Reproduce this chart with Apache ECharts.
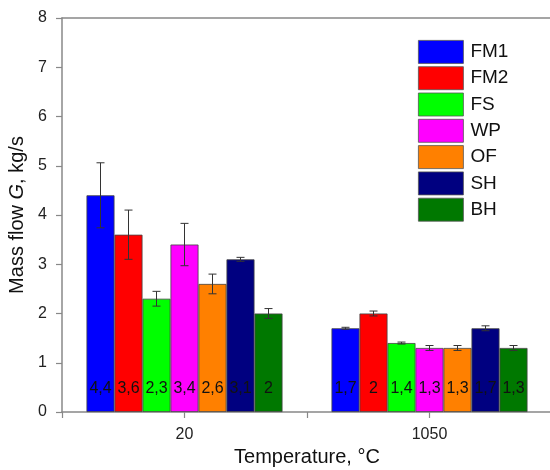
<!DOCTYPE html>
<html>
<head>
<meta charset="utf-8">
<script src="https://cdn.jsdelivr.net/npm/echarts@6/dist/echarts.min.js"></script>
<style>html,body{margin:0;padding:0;background:#fff;}#c{width:550px;height:470px;}</style>
</head>
<body>
<div id="c"></div>
<script>
const categories = ['20', '1050'];
const seriesNames = ['FM1', 'FM2', 'FS', 'WP', 'OF', 'SH', 'BH'];
const FM1 = [4.4, 1.7];
const FM2 = [3.6, 2.0];
const FS = [2.3, 1.4];
const WP = [3.4, 1.3];
const OF = [2.6, 1.3];
const SH = [3.1, 1.7];
const BH = [2.0, 1.3];
const FM1err = [0.66, 0.02];
const FM2err = [0.5, 0.05];
const FSerr = [0.15, 0.02];
const WPerr = [0.43, 0.05];
const OFerr = [0.2, 0.05];
const SHerr = [0.04, 0.05];
const BHerr = [0.1, 0.05];
const yTicks = [0, 1, 2, 3, 4, 5, 6, 7, 8];

const values = [FM1, FM2, FS, WP, OF, SH, BH];
const errors = [FM1err, FM2err, FSerr, WPerr, OFerr, SHerr, BHerr];
const colors = ['#0000ff', '#ff0000', '#00ff00', '#ff00ff', '#ff8000', '#000080', '#007800'];
const FONT = 'Liberation Sans, Arial, sans-serif';
const nSeries = seriesNames.length;
const catGapFrac = 0.2;

const chart = echarts.init(document.getElementById('c'));
const series = [];
seriesNames.forEach((name, i) => {
  series.push({
    name: name,
    type: 'bar',
    data: values[i],
    barGap: '0%',
    barCategoryGap: '20%',
    itemStyle: { color: colors[i], borderColor: '#444', borderWidth: 0.8 },
    label: {
      show: true,
      position: 'insideBottom',
      distance: 15,
      color: '#111',
      fontFamily: FONT,
      fontSize: 16,
      formatter: p => String(p.value).replace('.', ',')
    },
    z: 2
  });
});
seriesNames.forEach((name, i) => {
  series.push({
    type: 'custom',
    name: name + ' err',
    data: categories.map((c, k) => [k, values[i][k], errors[i][k]]),
    encode: { x: 0, y: 1 },
    z: 5,
    silent: true,
    renderItem: function (params, api) {
      const k = api.value(0);
      const v = api.value(1);
      const e = api.value(2);
      const catW = api.size([1, 0])[0];
      const bw = catW * (1 - catGapFrac) / nSeries;
      const c = api.coord([k, v]);
      const x = c[0] + (i - (nSeries - 1) / 2) * bw;
      const top = api.coord([k, v + e])[1];
      const bot = api.coord([k, v - e])[1];
      const cap = 4;
      const st = { stroke: '#333', lineWidth: 1 };
      return {
        type: 'group',
        children: [
          { type: 'line', shape: { x1: x, y1: top, x2: x, y2: bot }, style: st },
          { type: 'line', shape: { x1: x - cap, y1: top, x2: x + cap, y2: top }, style: st },
          { type: 'line', shape: { x1: x - cap, y1: bot, x2: x + cap, y2: bot }, style: st }
        ]
      };
    }
  });
});
// center tick marks on category axis
series.push({
  type: 'custom',
  silent: true,
  data: categories.map((c, k) => [k, 0]),
  encode: { x: 0, y: 1 },
  z: 6,
  renderItem: function (params, api) {
    const c = api.coord([api.value(0), 0]);
    return { type: 'line', shape: { x1: c[0], y1: c[1], x2: c[0], y2: c[1] + 6 }, style: { stroke: '#888', lineWidth: 1.2 } };
  }
});

chart.setOption({
  animation: false,
  backgroundColor: '#fff',
  textStyle: { fontFamily: FONT },
  grid: { left: 62, top: 18, width: 490, bottom: 58, containLabel: false, outerBoundsMode: 'none' },
  legend: {
    data: seriesNames,
    orient: 'vertical',
    left: 418,
    top: 40,
    padding: 0,
    itemWidth: 45,
    itemHeight: 23,
    itemGap: 2.5,
    icon: 'rect',
    textStyle: { fontFamily: FONT, fontSize: 19, color: '#111', padding: [0, 0, 0, 2] },
    itemStyle: { borderColor: '#555', borderWidth: 0.8 },
    selectedMode: false
  },
  xAxis: [{
    type: 'category',
    data: categories,
    axisLine: { lineStyle: { color: '#888', width: 1.5 } },
    axisTick: { show: true, length: 6, lineStyle: { color: '#888', width: 1.2 } },
    axisLabel: { fontFamily: FONT, fontSize: 16, color: '#222', margin: 15 },
    name: 'Temperature, °C',
    nameLocation: 'middle',
    nameGap: 35,
    nameTextStyle: { fontFamily: FONT, fontSize: 20, color: '#111' }
  }, {
    type: 'category',
    position: 'top',
    data: categories,
    axisLine: { show: true, lineStyle: { color: '#888', width: 1.5 } },
    axisTick: { show: false },
    axisLabel: { show: false }
  }],
  yAxis: {
    type: 'value',
    min: yTicks[0],
    max: yTicks[yTicks.length - 1],
    interval: 1,
    splitLine: { show: false },
    axisLine: { show: true, lineStyle: { color: '#888', width: 1.5 } },
    axisTick: { show: true, length: 6, lineStyle: { color: '#888', width: 1.2 } },
    axisLabel: { fontFamily: FONT, fontSize: 16, color: '#222', margin: 15 },
    name: '{n|Mass flow }{i|G}{n|, kg/s}',
    nameLocation: 'middle',
    nameGap: 34,
    nameRotate: 90,
    nameTextStyle: {
      rich: {
        n: { fontFamily: FONT, fontSize: 20, color: '#111' },
        i: { fontFamily: FONT, fontSize: 20, color: '#111', fontStyle: 'italic' }
      }
    }
  },
  series: series
});
</script>
</body>
</html>
